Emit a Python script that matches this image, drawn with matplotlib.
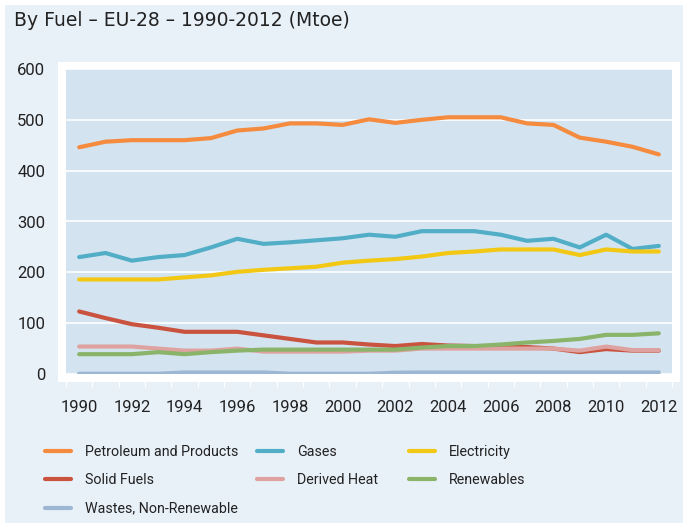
import matplotlib.pyplot as plt
from matplotlib.patches import Rectangle
import numpy as np

plt.rcParams['font.family'] = ['Roboto', 'DejaVu Sans']

years = np.arange(1990, 2013)

petroleum = [446, 457, 460, 460, 460, 464, 479, 483, 493, 493, 490, 501,
             494, 500, 505, 505, 505, 493, 490, 465, 457, 447, 432]
gases = [230, 238, 223, 230, 234, 249, 266, 256, 259, 263, 267, 274,
         270, 281, 281, 281, 274, 262, 266, 249, 274, 246, 252]
electricity = [186, 186, 186, 186, 190, 194, 201, 205, 208, 211, 219, 223,
               226, 231, 238, 241, 245, 245, 245, 234, 245, 241, 241]
solid_fuels = [123, 110, 98, 91, 83, 83, 83, 76, 69, 62, 62, 58,
               55, 59, 56, 55, 54, 53, 50, 43, 49, 46, 46]
derived_heat = [54, 54, 54, 50, 46, 46, 50, 44, 44, 44, 44, 46,
                46, 50, 50, 50, 50, 50, 50, 46, 54, 47, 47]
renewables = [39, 39, 39, 43, 39, 43, 46, 48, 48, 48, 48, 48,
              48, 52, 55, 55, 58, 62, 65, 69, 77, 77, 80]
wastes = [0.5, 0.5, 0.5, 0.5, 3, 3, 3, 3, 0.5, 0.5, 0.5, 0.5,
          2.5, 3, 3, 3, 3, 3, 3, 3, 3, 3, 3]

series = [
    ("Petroleum and Products", petroleum, '#F58B3F'),
    ("Gases", gases, '#52AEC6'),
    ("Electricity", electricity, '#F2C814'),
    ("Solid Fuels", solid_fuels, '#C9533F'),
    ("Derived Heat", derived_heat, '#DEA3A0'),
    ("Renewables", renewables, '#8BB46B'),
    ("Wastes, Non-Renewable", wastes, '#9DB6D3'),
]

W, H = 688, 523
fig = plt.figure(figsize=(W / 100, H / 100), dpi=100, facecolor='white')

# fondo azul claro del panel
fig.patches.append(Rectangle((5 / W, 0), 678 / W, 518 / H, transform=fig.transFigure,
                             facecolor='#E8F0F8', edgecolor='none', zorder=-2))
# marco blanco alrededor del area del grafico
fig.patches.append(Rectangle((58 / W, (H - 382) / H), 622 / W, 320 / H, transform=fig.transFigure,
                             facecolor='white', edgecolor='none', zorder=-1))

ax = fig.add_axes([66 / W, (H - 374) / H, 606 / W, 305 / H])
ax.set_zorder(2)
ax.set_facecolor('#D3E4F0')

lines = {}
for name, vals, col in series:
    lines[name], = ax.plot(years, vals, color=col, lw=3.0, label=name, solid_capstyle='round')

ax.set_xlim(1989.5, 2012.5)
ax.set_ylim(0, 600)
ax.set_yticks(range(0, 601, 100))
ax.set_xticks(range(1990, 2013, 2))
ax.set_xticks(np.arange(1989.5, 2013, 1), minor=True)
ax.grid(axis='y', color='white', lw=1.2)
ax.set_axisbelow(True)
for s in ax.spines.values():
    s.set_visible(False)

ax.tick_params(axis='y', length=0, pad=15, labelsize=12, labelcolor='#222222')
ax.tick_params(axis='x', which='major', length=0, pad=19, labelsize=12, labelcolor='#222222')
ax.tick_params(axis='x', which='minor', length=9, width=1, color='white', direction='out')

fig.text(14 / W, 1 - 21 / H, "By Fuel \u2013 EU-28 \u2013 1990-2012 (Mtoe)", fontsize=13.5,
         family='DejaVu Sans', color='#222222', va='center', ha='left')

# leyenda en tres columnas colocadas a mano
columns = [
    (45, ["Petroleum and Products", "Solid Fuels", "Wastes, Non-Renewable"]),
    (257, ["Gases", "Derived Heat"]),
    (409, ["Electricity", "Renewables"]),
]
for x0, names in columns:
    leg = fig.legend([lines[n] for n in names], names, ncol=1, frameon=False,
                     loc='upper left', bbox_to_anchor=(x0 / W, 1 - 445 / H),
                     fontsize=10.3, handlelength=1.85, handletextpad=0.95,
                     labelspacing=1.0, borderpad=0, borderaxespad=0)
    for t in leg.get_texts():
        t.set_color('#222222')

fig.savefig('out.png', dpi=100, facecolor=fig.get_facecolor())
